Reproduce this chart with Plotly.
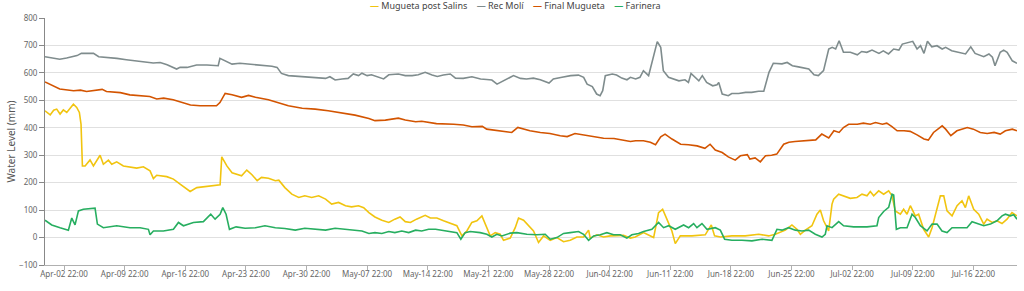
import pandas as pd
import plotly.graph_objects as go

BASE = pd.Timestamp("2023-04-02 22:00")

# ---- Mugueta post Salins (days after BASE, mm) ----
salins_days = [-2.2, -1.6, -1.2, -0.85, -0.46, -0.08, 0.31, 0.69, 1.08, 1.46,
               1.77, 1.96, 2.12, 2.43, 3.0, 3.39, 4.16, 4.54, 5.12, 5.51,
               6.08, 6.85, 7.62, 8.39, 9.16, 9.93, 10.32, 10.7, 11.86, 12.63,
               13.4, 14.17, 14.56, 15.33, 16.48, 18.02, 18.21, 18.8, 19.4, 20.5,
               21.1, 21.7, 22.3, 22.8, 23.6, 24.4, 24.8, 25.5, 26.3, 27.1,
               27.8, 28.6, 29.4, 30.2, 30.9, 31.7, 32.5, 33.2, 34.0, 34.6,
               35.2, 35.9, 36.7, 37.5, 38.2, 38.8, 39.4, 40.0, 40.7, 41.7,
               42.3, 43.05, 43.82, 44.59, 45.36, 45.94, 46.51, 47.09, 47.67, 48.25,
               48.63, 49.21, 49.79, 50.36, 50.75, 51.52, 52.1, 52.48, 53.06, 53.64,
               54.21, 54.79, 55.37, 56.14, 56.91, 57.68, 58.45, 59.22, 59.99, 60.57,
               60.76, 61.53, 62.3, 63.07, 63.84, 64.61, 65.38, 65.96, 66.92, 68.08,
               68.65, 69.12, 69.61, 70.19, 70.58, 71.16, 72.5, 74.04, 74.74, 75.12,
               75.78, 77.12, 78.66, 80.21, 81.36, 82.13, 83.29, 84.05, 84.63, 85.02,
               85.6, 86.36, 86.94, 87.33, 87.71, 88.29, 88.68, 88.87, 89.45, 90.02,
               90.79, 91.56, 92.14, 92.72, 93.1, 93.49, 94.07, 94.64, 95.22, 95.61,
               95.99, 96.57, 96.95, 97.34, 97.72, 98.3, 98.68, 99.26, 99.84, 100.23,
               100.61, 101.19, 101.58, 101.96, 102.54, 103.12, 103.69, 104.08, 104.46, 105.04,
               105.62, 106.2, 106.58, 107.16, 107.73, 108.31, 108.89, 109.46, 110.04]
salins_mm = [462, 447, 464, 468, 450, 465, 456, 472, 486, 474,
             456, 413, 261, 261, 283, 261, 300, 267, 282, 267,
             276, 261, 258, 253, 258, 243, 215, 227, 222, 213,
             195, 176, 168, 182, 186, 192, 294, 261, 236, 225,
             246, 229, 207, 219, 216, 207, 209, 182, 158, 146,
             152, 146, 152, 140, 122, 128, 116, 112, 116, 109,
             91, 75, 63, 55, 67, 75, 58, 55, 67, 81,
             71, 71, 61, 52, 43, 6, 24, 55, 61, 79,
             49, 6, 18, 12, -10, -2, 36, 71, 63, 43,
             24, -18, 6, -10, 0, -15, -10, 2, 2, 27,
             -2, 10, 2, 6, 6, 8, -2, 2, 18, 0,
             91, 103, 67, 24, -22, 6, 6, 10, 46, 6,
             2, 6, 6, 12, 6, 12, 27, 46, 30, 12,
             27, 43, 85, 100, 61, 24, 122, 140, 158, 152,
             143, 146, 158, 152, 168, 152, 170, 158, 170, 152,
             97, 85, 103, 85, 116, 79, 85, 30, 2, 36,
             85, 152, 152, 97, 79, 116, 134, 109, 152, 103,
             85, 49, 67, 55, 61, 51, 67, 91, 79]

# ---- Rec Molí ----
molí_days = [-2.2, -0.5, 0.3, 1.5, 2.0, 3.4, 4.0, 4.9, 6.1, 7.2,
             8.8, 10.3, 11.1, 11.9, 13.0, 13.4, 14.2, 15.3, 16.5, 17.8,
             18.0, 18.6, 19.4, 20.3, 20.9, 22.8, 24.0, 24.6, 25.1, 25.9,
             27.5, 29.0, 30.2, 30.7, 31.3, 32.1, 32.8, 33.4, 34.0, 34.4,
             35.0, 35.5, 36.3, 36.9, 37.5, 38.6, 39.4, 40.2, 40.9, 41.7,
             42.5, 43.1, 43.8, 44.6, 45.2, 46.1, 47.1, 48.1, 48.8, 49.4,
             50.0, 50.8, 51.9, 52.7, 53.4, 54.2, 55.0, 56.0, 56.5, 57.5,
             58.5, 59.4, 60.0, 60.4, 61.0, 61.5, 61.9, 62.2, 62.5, 63.3,
             63.8, 64.4, 65.0, 65.4, 66.0, 66.5, 66.9, 67.5, 68.1, 68.5,
             68.9, 69.2, 69.8, 71.0, 71.7, 72.1, 72.4, 72.9, 73.3, 73.7,
             74.2, 74.9, 75.4, 75.6, 76.0, 76.7, 77.1, 77.9, 78.7, 79.4,
             80.2, 80.8, 81.4, 81.9, 82.9, 83.5, 84.1, 84.8, 86.0, 86.6,
             87.1, 87.7, 88.3, 88.7, 89.1, 89.5, 90.0, 90.8, 91.6, 92.1,
             92.7, 93.3, 94.1, 94.6, 95.2, 95.8, 96.4, 96.8, 97.7, 98.0,
             98.5, 98.9, 99.3, 99.7, 100.2, 100.8, 101.4, 101.8, 102.5, 103.5,
             104.1, 104.7, 105.2, 106.2, 106.8, 107.2, 107.5, 108.1, 108.5, 108.9,
             109.5, 110.04]
molí_mm = [659, 650, 654, 663, 671, 671, 659, 657, 653, 648,
           641, 636, 638, 630, 614, 620, 620, 629, 629, 626,
           653, 644, 632, 635, 633, 629, 624, 620, 598, 590,
           587, 584, 580, 586, 574, 578, 580, 596, 590, 599,
           590, 593, 586, 578, 593, 596, 590, 590, 593, 602,
           592, 587, 592, 596, 581, 580, 586, 578, 576, 574,
           559, 571, 590, 580, 578, 581, 575, 563, 578, 584,
           590, 592, 584, 559, 550, 523, 517, 535, 590, 596,
           592, 581, 575, 584, 578, 584, 608, 590, 669, 714,
           693, 608, 584, 571, 575, 565, 598, 584, 571, 590,
           565, 553, 557, 565, 523, 517, 525, 525, 529, 529,
           533, 533, 602, 635, 633, 638, 626, 622, 614, 593,
           590, 608, 687, 693, 687, 717, 675, 675, 666, 678,
           675, 683, 671, 680, 669, 687, 683, 705, 711, 715,
           687, 699, 671, 715, 695, 699, 687, 693, 681, 675,
           669, 695, 671, 659, 669, 657, 626, 675, 683, 675,
           644, 635]

# ---- Final Mugueta ----
final_days = [-2.2, -1.2, -0.5, 1.1, 1.9, 2.6, 3.4, 4.4, 4.9, 6.5,
              7.6, 8.8, 9.9, 10.7, 11.5, 12.6, 13.8, 14.6, 15.7, 17.6,
              18.0, 18.6, 19.4, 20.5, 21.3, 22.1, 23.6, 24.8, 25.9, 27.5,
              29.0, 30.5, 32.1, 33.6, 35.2, 35.9, 37.1, 38.6, 39.4, 40.6,
              41.3, 42.3, 43.0, 45.0, 46.1, 47.1, 48.3, 48.8, 50.0, 50.9,
              51.7, 52.4, 53.1, 53.8, 55.0, 56.1, 57.3, 58.1, 59.0, 60.0,
              61.2, 62.3, 63.5, 64.6, 65.4, 66.0, 66.9, 67.7, 68.3, 68.9,
              69.4, 70.2, 71.2, 72.1, 73.1, 74.0, 74.6, 75.2, 76.0, 76.7,
              77.5, 78.1, 78.9, 79.2, 79.8, 80.4, 81.0, 81.7, 82.3, 83.1,
              83.7, 84.4, 85.6, 86.8, 87.5, 87.9, 88.3, 88.9, 89.5, 90.0,
              90.6, 91.6, 92.3, 93.1, 93.7, 94.5, 95.0, 95.6, 96.2, 97.0,
              97.7, 98.5, 99.3, 99.8, 100.4, 101.4, 101.8, 102.4, 103.1, 104.3,
              105.0, 105.8, 106.6, 107.4, 108.1, 108.7, 109.5, 110.04]
final_mm = [567, 550, 541, 535, 537, 532, 535, 540, 532, 528,
            520, 517, 514, 505, 508, 502, 492, 483, 480, 480,
            492, 525, 520, 511, 518, 511, 502, 492, 480, 471,
            468, 462, 453, 446, 434, 426, 428, 435, 428, 422,
            424, 420, 415, 413, 410, 404, 405, 395, 391, 387,
            383, 401, 395, 389, 383, 379, 371, 368, 379, 374,
            367, 362, 361, 355, 350, 353, 353, 347, 338, 367,
            377, 359, 340, 338, 334, 325, 340, 319, 310, 294,
            282, 298, 302, 286, 290, 276, 298, 300, 304, 340,
            347, 350, 353, 356, 377, 371, 363, 389, 383, 401,
            413, 413, 417, 413, 419, 413, 417, 404, 389, 389,
            387, 374, 359, 355, 383, 407, 395, 371, 389, 401,
            395, 383, 379, 383, 377, 389, 395, 389]

# ---- Farinera ----
farinera_days = [-2.2, -1.42, -0.46, 0.5, 0.89, 1.27, 1.66, 2.23, 3.58, 3.85,
                 4.54, 5.31, 6.08, 7.62, 8.78, 9.74, 9.93, 10.32, 11.47, 12.63,
                 13.21, 13.78, 14.94, 16.09, 16.94, 17.44, 18.02, 18.33, 18.71, 19.1,
                 19.87, 20.9, 22.1, 23.2, 24.4, 25.5, 26.7, 27.8, 29.0, 30.2,
                 31.3, 32.5, 33.6, 34.4, 35.2, 35.9, 36.7, 37.5, 38.2, 39.0,
                 39.8, 40.6, 41.3, 42.1, 42.9, 43.43, 44.59, 45.36, 45.82, 46.32,
                 46.9, 48.05, 48.82, 49.4, 49.98, 50.56, 51.52, 52.29, 53.44, 54.6,
                 55.56, 56.14, 56.91, 57.68, 58.45, 59.41, 59.99, 60.57, 61.15, 61.92,
                 62.68, 63.45, 64.23, 64.99, 65.57, 66.34, 66.92, 67.88, 68.65, 69.23,
                 69.81, 70.58, 71.54, 72.12, 72.7, 73.08, 73.66, 74.24, 75.2, 75.78,
                 76.28, 77.12, 78.28, 79.43, 80.59, 81.74, 82.32, 82.9, 83.67, 84.44,
                 85.21, 85.98, 86.75, 87.52, 87.9, 88.1, 88.68, 89.45, 90.02, 91.18,
                 92.72, 93.87, 94.07, 94.64, 95.22, 95.61, 95.8, 96.11, 96.57, 97.34,
                 97.92, 98.3, 98.88, 99.65, 100.23, 100.81, 101.38, 101.96, 102.54, 103.5,
                 104.27, 104.85, 105.42, 106.2, 106.97, 107.73, 108.31, 108.7, 109.27, 109.66,
                 110.04]
farinera_mm = [63, 46, 36, 27, 71, 46, 97, 103, 107, 49,
               36, 40, 43, 36, 36, 30, 10, 24, 24, 30,
               55, 43, 55, 58, 85, 67, 85, 109, 85, 30,
               39, 34, 36, 43, 36, 33, 27, 34, 30, 27,
               34, 30, 27, 24, 15, 18, 15, 22, 18, 24,
               18, 27, 24, 30, 30, 27, 22, 18, -6, 18,
               22, 18, 12, 2, 12, 6, 16, 18, 12, 10,
               12, -6, 0, 15, 18, 22, 12, -10, 6, 10,
               18, 10, 10, -2, 10, 15, 22, 30, 55, 36,
               43, 30, 46, 36, 51, 36, 51, 30, 36, 27,
               -6, -10, -10, -12, -6, -10, 30, 27, 36, 27,
               24, 27, 12, 2, 12, 43, 36, 58, 43, 39,
               39, 43, 73, 95, 110, 158, 155, 30, 36, 36,
               85, 73, 43, 24, 49, 49, 24, 18, 36, 36,
               36, 58, 52, 43, 49, 61, 79, 85, 79, 83,
               67]

series_names = ["Mugueta post Salins", "Rec Molí", "Final Mugueta", "Farinera"]
series_colors = ["#f1c40f", "#7f8c8d", "#d35400", "#27ae60"]
tick_weeks = list(range(16))  # weekly ticks starting at BASE

def to_time(days):
    return [BASE + pd.Timedelta(days=d) for d in days]

fig = go.Figure()
data = [(salins_days, salins_mm), (molí_days, molí_mm),
        (final_days, final_mm), (farinera_days, farinera_mm)]
for (dd, vv), name, col in zip(data, series_names, series_colors):
    n = min(len(dd), len(vv))
    fig.add_trace(go.Scatter(x=to_time(dd[:n]), y=vv[:n], name=name, mode="lines",
                             line=dict(color=col, width=1.6), showlegend=False))

FONT = "Noto Sans, Liberation Sans, Arial, sans-serif"
tickvals = [BASE + pd.Timedelta(days=7 * k) for k in tick_weeks]
x0 = BASE + pd.Timedelta(days=min(salins_days))
x1 = BASE + pd.Timedelta(days=max(salins_days))

legend_txt = "&nbsp;&nbsp;&nbsp;&nbsp;".join(
    f"<span style='color:{c}'><b>—</b></span> {n}" for n, c in zip(series_names, series_colors))

fig.update_layout(
    width=1024, height=291,
    margin=dict(l=45, r=7, t=18, b=26, pad=0),
    paper_bgcolor="white", plot_bgcolor="white",
    font=dict(family=FONT, size=8, color="#666"),
    xaxis=dict(type="date", range=[x0, x1], tickvals=tickvals,
               tickformat="%b-%d %H:%M", showgrid=False, showline=True,
               linecolor="#b0b0b0", linewidth=1, ticks="outside", ticklen=4,
               tickcolor="#b0b0b0", tickfont=dict(size=8, color="#666"),
               ticklabelstandoff=-3, zeroline=False),
    yaxis=dict(range=[-100, 800], dtick=100, showgrid=True, gridcolor="#e0e0e0",
               gridwidth=1, showline=True, linecolor="#888", linewidth=1,
               ticks="outside", ticklen=5, tickcolor="#888",
               tickfont=dict(size=8, color="#666"), zeroline=False,
               title=dict(text="Water Level (mm)", font=dict(size=10, color="#555"),
                          standoff=1)),
    annotations=[dict(text=legend_txt, xref="paper", yref="paper",
                      x=(515 - 45) / 972, y=1 + 12 / 247, xanchor="center",
                      yanchor="middle", showarrow=False,
                      font=dict(size=9, color="#444", family=FONT))],
)

fig.write_html("out.html")
